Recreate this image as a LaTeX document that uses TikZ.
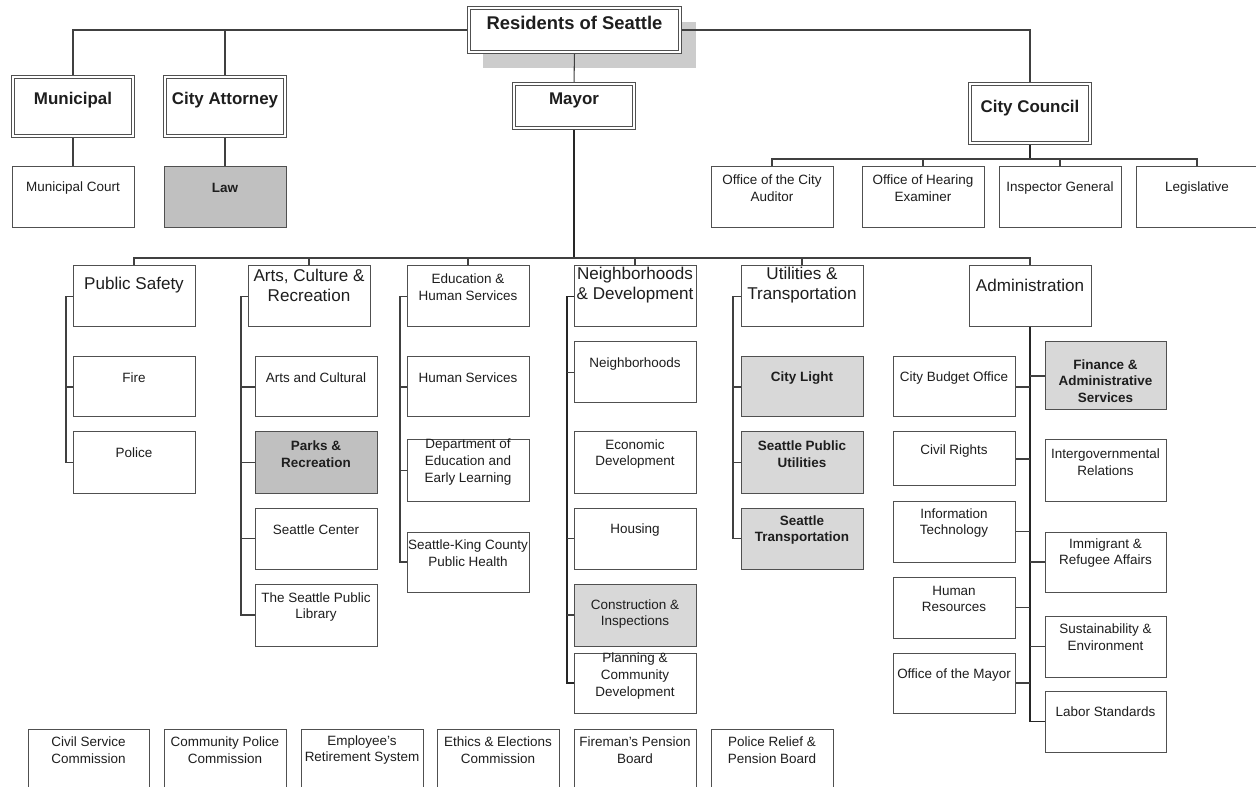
\documentclass[tikz,border=0pt]{standalone}
\usepackage{fontspec}
\setmainfont{Liberation Sans}
\usetikzlibrary{fit,calc}
\definecolor{bd}{HTML}{505050}
\definecolor{cn}{HTML}{404040}
\definecolor{tx}{HTML}{1E1E1E}
\definecolor{dk}{HTML}{C0C0C0}
\definecolor{lt}{HTML}{D8D8D8}
\definecolor{sh}{HTML}{CCCCCC}
\pgfdeclarelayer{bg}
\pgfsetlayers{bg,main}
\tikzset{
  box/.style={draw=bd, line width=0.75pt, fill=white, inner sep=0pt, outer sep=0pt},
  dbox/.style={box, line width=0.7pt, double=white, double distance=1.6pt},
  gbox/.style={box, fill=dk},
  lbox/.style={box, fill=lt},
  sm/.style={font=\fontsize{10.1pt}{12.4pt}\selectfont, align=center, text=tx, inner sep=0pt},
  smb/.style={font=\fontsize{10.1pt}{12.4pt}\selectfont\bfseries, align=center, text=tx, inner sep=0pt},
  lg/.style={font=\fontsize{12.8pt}{15pt}\selectfont, align=center, text=tx, inner sep=0pt},
  hd/.style={font=\fontsize{12.7pt}{15pt}\selectfont\bfseries, align=center, text=tx, inner sep=0pt},
  hdr/.style={font=\fontsize{13.8pt}{15pt}\selectfont\bfseries, align=center, text=tx, inner sep=0pt},
  con/.style={draw=cn, line width=0.8pt},
  conb/.style={draw=black!85, line width=1.3pt},
}
% name, box style, text style, x1, y1, x2, y2, text offset, text
\newcommand\bx[9]{%
  \node[#2, fit={(#4,#5)(#6,#7)}] (#1) {};
  \node[#3] (#1t) at ($(#1.north)+(0,#8)$) {#9};}
\begin{document}
\begin{tikzpicture}[x=0.75pt, y=-0.75pt]
\useasboundingbox (0,0) rectangle (1256,787);
% top level
\bx{res}{dbox}{hdr}{469}{8}{680}{52}{15}{Residents of Seattle}
\bx{mun}{dbox}{hd}{13}{77}{133}{136}{23}{Municipal}
\bx{ca}{dbox}{hd}{165}{77}{285}{136}{23}{City Attorney}
\bx{mayor}{dbox}{hd}{514}{84}{634}{128}{16}{Mayor}
\bx{cc}{dbox}{hd}{970}{84}{1090}{143}{24}{City Council}
% second row
\bx{mc}{box}{sm}{12}{167}{134}{228}{21}{Municipal Court}
\bx{law}{gbox}{smb}{164}{167}{286}{228}{21}{Law}
\bx{aud}{box}{sm}{711}{167}{833}{228}{21}{Office of the City\\Auditor}
\bx{hear}{box}{sm}{862}{167}{984}{228}{21}{Office of Hearing\\Examiner}
\bx{ig}{box}{sm}{999}{167}{1121}{228}{21}{Inspector General}
\bx{leg}{box}{sm}{1136}{167}{1258}{228}{21}{Legislative}
% categories
\bx{ps}{box}{lg}{73}{266}{195}{327}{19}{Public Safety}
\bx{acr}{box}{lg}{248}{266}{370}{327}{19}{Arts, Culture \&\\Recreation}
\bx{ehs}{box}{sm}{407}{266}{529}{327}{21}{Education \&\\Human Services}
\bx{nd}{box}{lg}{574}{266}{696}{327}{19}{Neighborhoods\\\& Development}
\bx{ut}{box}{lg}{741}{266}{863}{327}{19}{Utilities \&\\Transportation}
\bx{adm}{box}{lg}{969}{266}{1091}{327}{19}{Administration}
% public safety
\bx{fire}{box}{sm}{73}{357}{195}{417}{21}{Fire}
\bx{police}{box}{sm}{73}{432}{195}{493}{21}{Police}
% arts
\bx{ac}{box}{sm}{255}{357}{377}{417}{21}{Arts and Cultural}
\bx{parks}{gbox}{smb}{255}{432}{377}{493}{22}{Parks \&\\Recreation}
\bx{sc}{box}{sm}{255}{508}{377}{569}{22}{Seattle Center}
\bx{spl}{box}{sm}{255}{584}{377}{646}{23}{The Seattle Public\\Library}
% education
\bx{hs}{box}{sm}{407}{357}{529}{417}{21}{Human Services}
\bx{del}{box}{sm}{407}{440}{529}{501}{22}{Department of\\Education and\\Early Learning}
\bx{skc}{box}{sm}{407}{532}{529}{592}{21}{Seattle-King County\\Public Health}
% neighborhoods
\bx{nb}{box}{sm}{574}{342}{696}{403}{22}{Neighborhoods}
\bx{ed}{box}{sm}{574}{432}{696}{493}{22}{Economic\\Development}
\bx{hou}{box}{sm}{574}{508}{696}{569}{22}{Housing}
\bx{ci}{lbox}{sm}{574}{584}{696}{646}{30}{Construction \&\\Inspections}
\bx{pcd}{box}{sm}{574}{653}{696}{713}{23}{Planning \&\\Community\\Development}
% utilities
\bx{cl}{lbox}{smb}{741}{357}{863}{417}{21}{City Light}
\bx{spu}{lbox}{smb}{741}{432}{863}{493}{22}{Seattle Public\\Utilities}
\bx{st}{lbox}{smb}{741}{508}{863}{569}{22}{Seattle\\Transportation}
% administration left
\bx{cbo}{box}{sm}{893}{357}{1015}{417}{21}{City Budget Office}
\bx{cr}{box}{sm}{893}{432}{1015}{486}{19}{Civil Rights}
\bx{it}{box}{sm}{893}{501}{1015}{562}{22}{Information\\Technology}
\bx{hr}{box}{sm}{893}{577}{1015}{638}{22}{Human\\Resources}
\bx{om}{box}{sm}{893}{653}{1015}{713}{22}{Office of the Mayor}
% administration right
\bx{fas}{lbox}{smb}{1045}{342}{1166}{410}{39}{Finance \&\\Administrative\\Services}
\bx{igr}{box}{sm}{1045}{440}{1166}{501}{22}{Intergovernmental\\Relations}
\bx{ira}{box}{sm}{1045}{532}{1166}{592}{21}{Immigrant \&\\Refugee Affairs}
\bx{se}{box}{sm}{1045}{616}{1166}{677}{21}{Sustainability \&\\Environment}
\bx{ls}{box}{sm}{1045}{691}{1166}{752}{21}{Labor Standards}
% bottom row
\bx{csc}{box}{sm}{28}{729}{149}{800}{21}{Civil Service\\Commission}
\bx{cpc}{box}{sm}{164}{729}{286}{800}{21}{Community Police\\Commission}
\bx{ers}{box}{sm}{301}{729}{423}{800}{21}{Employee's\\Retirement System}
\bx{eec}{box}{sm}{437}{729}{559}{800}{21}{Ethics \& Elections\\Commission}
\bx{fpb}{box}{sm}{574}{729}{696}{800}{21}{Fireman's Pension\\Board}
\bx{prp}{box}{sm}{711}{729}{833}{800}{21}{Police Relief \&\\Pension Board}
% connectors
\coordinate (tb) at (574,30);
\coordinate (cb) at (1030,159);
\coordinate (mb) at (574,258);
\coordinate (psb) at (66,0);
\coordinate (acb) at (241,0);
\coordinate (edb) at (400,0);
\coordinate (ndb) at (567,0);
\coordinate (utb) at (733,0);
\begin{pgfonlayer}{bg}
\fill[white] (0,0) rectangle (1256,787);
\fill[sh] (483,22) rectangle (696,68);
\draw[con] (mun.north) -- (mun.north |- tb) -| (cc.north);
\draw[con] (ca.north) -- (ca.north |- tb);
\draw[con] (res.south) -- (mayor.north);
\draw[con] (mun.south) -- (mc.north);
\draw[con] (ca.south) -- (law.north);
\draw[conb] (cc.south) -- (cb);
\draw[con] (aud.north) -- (aud.north |- cb) -| (leg.north);
\draw[con] (hear.north) -- (hear.north |- cb);
\draw[con] (ig.north) -- (ig.north |- cb);
\draw[conb] (mayor.south) -- (mb);
\draw[con] (ps.north) -- (ps.north |- mb) -| (adm.north);
\foreach \n in {acr,ehs,nd,ut} \draw[con] (\n.north) -- (\n.north |- mb);
% public safety
\draw[con] (ps.west) -- (ps.west -| psb) |- (police.west);
\draw[con] (fire.west) -- (fire.west -| psb);
% arts
\draw[con] (acr.west) -- (acr.west -| acb) |- (spl.west);
\foreach \n in {ac,parks,sc} \draw[con] (\n.west) -- (\n.west -| acb);
% education
\draw[con] (ehs.west) -- (ehs.west -| edb) |- (skc.west);
\foreach \n in {hs,del} \draw[con] (\n.west) -- (\n.west -| edb);
% neighborhoods
\draw[conb] (nd.west) -- (nd.west -| ndb) |- (pcd.west);
\foreach \n in {nb,hou,ci} \draw[con] (\n.west) -- (\n.west -| ndb);
% utilities
\draw[con] (ut.west) -- (ut.west -| utb) |- (st.west);
\foreach \n in {cl,spu} \draw[con] (\n.west) -- (\n.west -| utb);
% administration
\draw[conb] (adm.south) |- (ls.west);
\foreach \n in {cbo,cr,it,hr,om} \draw[con] (\n.east) -- (\n.east -| adm.south);
\foreach \n in {fas,ira,se} \draw[con] (\n.west) -- (\n.west -| adm.south);
\end{pgfonlayer}
\end{tikzpicture}
\end{document}
